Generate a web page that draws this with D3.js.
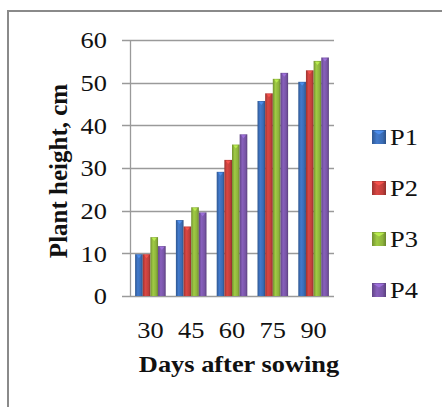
<!DOCTYPE html>
<html>
<head>
<meta charset="utf-8">
<script src="https://cdn.jsdelivr.net/npm/d3@7"></script>
<style>
  html, body { margin: 0; padding: 0; background: #fff; }
  svg { display: block; }
  text { font-family: "Liberation Serif", "Times New Roman", serif; fill: #111; }
</style>
</head>
<body>
<svg id="chart" width="442" height="407"></svg>
<script>
// Days after sowing (categories)
const days = ["30", "45", "60", "75", "90"];
// Series names
const seriesNames = ["P1", "P2", "P3", "P4"];
// Plant height (cm) per series, in the order of days
const p1 = [9.8, 17.8, 29.1, 45.7, 50.2];
const p2 = [9.8, 16.3, 31.9, 47.5, 52.9];
const p3 = [13.8, 20.8, 35.5, 50.9, 55.1];
const p4 = [11.7, 19.6, 37.9, 52.3, 55.9];
const yTicks = [0, 10, 20, 30, 40, 50, 60];

const seriesValues = [p1, p2, p3, p4];
const baseColors = ["#3a6cb4", "#c03f3b", "#8db33c", "#7855a6"];

// horizontal text is set slightly wide
const stretch = 1.1;
const fontSize = 24;

const svg = d3.select("#chart");

// outer frame
svg.append("path")
  .attr("d", "M8,407 V11 H442")
  .attr("fill", "none")
  .attr("stroke", "#8a8a8a")
  .attr("stroke-width", 2);

// gradients that give the bars a rounded, shaded look
const defs = svg.append("defs");
baseColors.forEach((c, i) => {
  const base = d3.color(c);
  const g = defs.append("linearGradient")
    .attr("id", "grad" + i)
    .attr("x1", "0").attr("x2", "1").attr("y1", "0").attr("y2", "0");
  g.append("stop").attr("offset", "0%").attr("stop-color", base.darker(0.6));
  g.append("stop").attr("offset", "35%").attr("stop-color", base.brighter(0.35));
  g.append("stop").attr("offset", "75%").attr("stop-color", base);
  g.append("stop").attr("offset", "100%").attr("stop-color", base.darker(0.8));
});

const plotLeft = 130, plotRight = 334, plotTop = 40, plotBottom = 296;

const y = d3.scaleLinear().domain([0, 60]).range([plotBottom, plotTop]);
const x = d3.scaleBand().domain(days).range([plotLeft, plotRight])
  .paddingInner(0.25).paddingOuter(0.125);
const xs = d3.scaleBand().domain(seriesNames).range([0, x.bandwidth()]);

// place a stretched text label at (px, py)
function label(sel, px, py) {
  return sel.attr("transform", (d, i) =>
    `translate(${typeof px === "function" ? px(d, i) : px},${typeof py === "function" ? py(d, i) : py}) scale(${stretch},1)`);
}

// horizontal gridlines with tick stubs
svg.append("g")
  .selectAll("line")
  .data(yTicks)
  .join("line")
  .attr("x1", 122).attr("x2", plotRight)
  .attr("y1", d => Math.round(y(d)) + 0.5)
  .attr("y2", d => Math.round(y(d)) + 0.5)
  .attr("stroke", "#9a9a9a")
  .attr("stroke-width", 1.3);

// vertical axis line
svg.append("line")
  .attr("x1", plotLeft + 0.5).attr("x2", plotLeft + 0.5)
  .attr("y1", plotTop).attr("y2", plotBottom)
  .attr("stroke", "#9a9a9a")
  .attr("stroke-width", 1.3);

// y tick labels
svg.append("g")
  .selectAll("text")
  .data(yTicks)
  .join("text")
  .call(label, 107, d => y(d))
  .attr("dy", "0.35em")
  .attr("text-anchor", "end")
  .attr("font-size", fontSize)
  .text(d => d);

// bars
const groups = svg.append("g")
  .selectAll("g")
  .data(seriesNames)
  .join("g")
  .attr("fill", (d, i) => `url(#grad${i})`);

groups.each(function(name, si) {
  const g = d3.select(this);
  const vals = seriesValues[si];
  const rows = days.map((d, i) => ({ day: d, v: vals[i] }));
  g.selectAll("rect")
    .data(rows)
    .join("rect")
    .attr("x", d => x(d.day) + xs(name))
    .attr("y", d => y(d.v))
    .attr("width", xs.bandwidth())
    .attr("height", d => plotBottom - y(d.v));
  // small bevel highlight on top of each bar
  g.selectAll("path.bevel")
    .data(rows)
    .join("path")
    .attr("class", "bevel")
    .attr("d", d => {
      const x0 = x(d.day) + xs(name), w = xs.bandwidth(), t = y(d.v);
      return `M${x0 + 1.5},${t + 1} H${x0 + w - 1.5} L${x0 + w / 2},${t + 4} Z`;
    })
    .attr("fill", d3.color(baseColors[si]).brighter(0.9))
    .attr("opacity", 0.8);
});

// x tick labels
svg.append("g")
  .selectAll("text")
  .data(days)
  .join("text")
  .call(label, d => x(d) + x.bandwidth() / 2, 338)
  .attr("text-anchor", "middle")
  .attr("font-size", fontSize)
  .text(d => d);

// axis titles
svg.append("text")
  .datum("Days after sowing")
  .call(label, 239, 372)
  .attr("text-anchor", "middle")
  .attr("font-size", fontSize)
  .attr("font-weight", "bold")
  .text(d => d);

svg.append("text")
  .attr("transform", "translate(67,171) rotate(-90)")
  .attr("text-anchor", "middle")
  .attr("font-size", 25)
  .attr("font-weight", "bold")
  .text("Plant height, cm");

// legend
const legend = svg.append("g")
  .selectAll("g")
  .data(seriesNames)
  .join("g")
  .attr("transform", (d, i) => `translate(372,${137 + i * 51})`);

legend.append("rect")
  .attr("x", 0).attr("y", -7)
  .attr("width", 14).attr("height", 14)
  .attr("fill", (d, i) => `url(#grad${i})`);

legend.append("path")
  .attr("d", "M1.5,-6 H12.5 L7,-2.5 Z")
  .attr("fill", (d, i) => d3.color(baseColors[i]).brighter(0.9))
  .attr("opacity", 0.8);

legend.append("text")
  .call(label, 18, 0)
  .attr("dy", "0.35em")
  .attr("font-size", fontSize)
  .text(d => d);
</script>
</body>
</html>
